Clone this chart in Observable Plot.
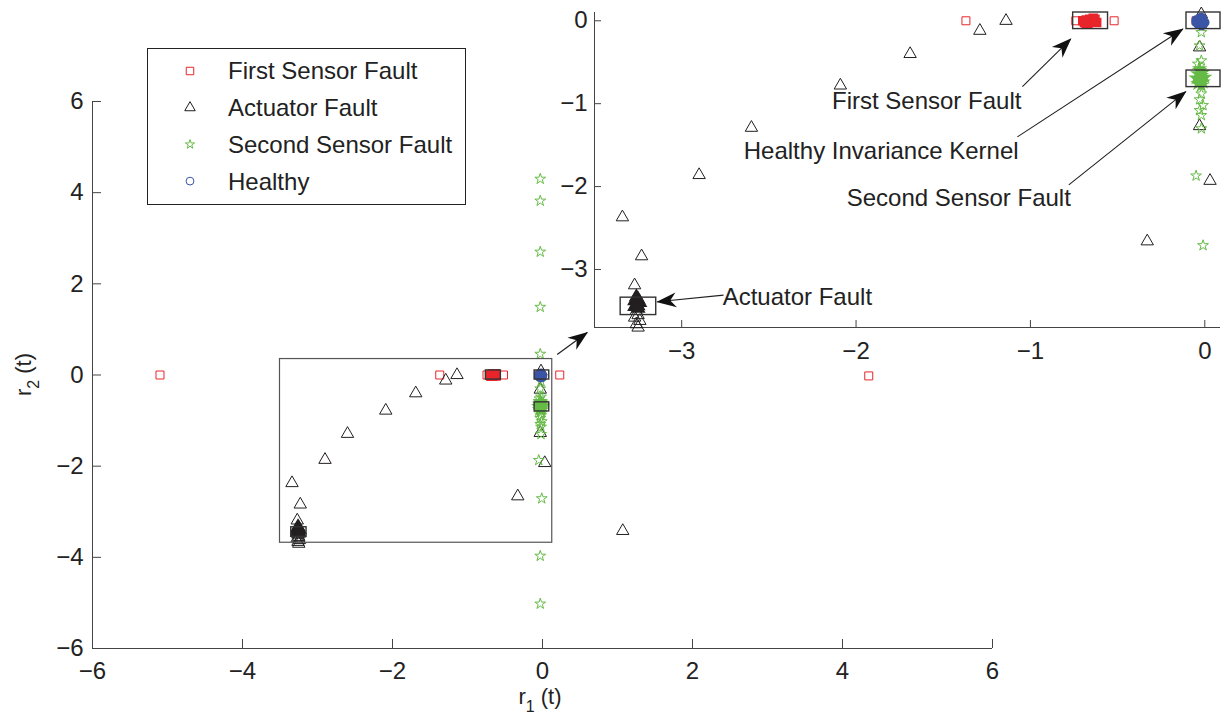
<!DOCTYPE html>
<html><head><meta charset="utf-8">
<script src="https://cdn.jsdelivr.net/npm/d3@7"></script>
<script src="https://cdn.jsdelivr.net/npm/@observablehq/plot@0.6"></script>
<style>
body{margin:0;background:#fff;}
#wrap{position:relative;width:1225px;height:720px;}
#wrap svg{position:absolute;left:0;top:0;}
</style></head><body><div id="wrap"></div>
<script>
const FONT = "'Liberation Sans', Arial, Helvetica, sans-serif";
const RED = "#e8252b", BLACK = "#231f20", GREEN = "#66bb46", BLUE = "#3b55a6", AX = "#444";

// ---- data: First Sensor Fault (red squares)
const firstX = [-5.10, -1.37, -0.74, -0.52, -0.05, 0.23, 4.35];
const firstY = [0, 0, 0, 0, 0, 0, -0.02];
const firstClusterX = [-0.70, -0.69, -0.68, -0.67, -0.66, -0.65, -0.64, -0.63, -0.62, -0.66, -0.68, -0.64];
const firstClusterY = [0.00, -0.02, 0.01, -0.03, 0.02, -0.01, 0.00, 0.02, -0.02, 0.00, -0.03, 0.03];
// ---- Actuator Fault (black triangles)
const actX = [-1.14, -1.29, -1.69, -2.09, -2.60, -2.90, -3.34, -3.23, -3.27, -3.26, -3.25, -3.27, -3.24, -3.26, -3.25, -0.33, 0.03, -0.03, -0.03, -0.02, 1.07];
const actY = [0.00, -0.12, -0.40, -0.78, -1.29, -1.86, -2.37, -2.84, -3.19, -3.50, -3.55, -3.58, -3.62, -3.66, -3.70, -2.66, -1.93, -1.27, -0.32, 0.08, -3.42];
const actClusterX = [-3.26, -3.25, -3.27, -3.24, -3.26, -3.25, -3.27, -3.25];
const actClusterY = [-3.33, -3.36, -3.38, -3.40, -3.42, -3.44, -3.45, -3.47];
// ---- Second Sensor Fault (green stars)
const ssX = [-0.03, -0.03, -0.03, -0.03, -0.03, -0.02, -0.03, -0.02, -0.04, -0.02, -0.03, -0.01, -0.03, -0.02, -0.02, -0.05, -0.01, -0.03, -0.03];
const ssY = [4.30, 3.82, 2.70, 1.49, 0.46, -0.14, -0.30, -0.48, -0.52, -0.88, -0.95, -1.02, -1.08, -1.14, -1.30, -1.87, -2.71, -3.97, -5.02];
const ssClusterX = [-0.03, -0.01, -0.04, -0.02, 0.00, -0.05, -0.02, -0.03, -0.01, -0.04, -0.02, -0.03, -0.02];
const ssClusterY = [-0.58, -0.62, -0.64, -0.66, -0.68, -0.69, -0.70, -0.72, -0.74, -0.76, -0.78, -0.60, -0.71];
// ---- Healthy (blue circles)
const healthyX = [-0.05, -0.03, -0.01, 0.00, -0.04, -0.02, -0.03, -0.01, -0.05, -0.02];
const healthyY = [0.01, 0.03, 0.02, -0.02, -0.04, -0.06, 0.00, -0.05, -0.02, 0.04];

// ---- annotation boxes, labels and arrows (inset)
const boxNames = ["First Sensor Fault", "Healthy Invariance Kernel", "Second Sensor Fault", "Actuator Fault"];
const boxX1 = [-0.755, -0.105, -0.105, -3.35];
const boxX2 = [-0.555, 0.09, 0.09, -3.146];
const boxY1 = [-0.10, -0.10, -0.80, -3.55];
const boxY2 = [0.10, 0.10, -0.60, -3.34];
const labelX = [-1.595, -1.856, -1.411, -2.765];
const labelY = [-0.976, -1.578, -2.145, -3.337];
const labelAnchor = ["middle", "middle", "middle", "start"];
const arrowX1 = [-1.046, -1.075, -0.78, -2.76];
const arrowY1 = [-0.795, -1.40, -1.98, -3.31];
const arrowX2 = [-0.769, -0.126, -0.109, -3.14];
const arrowY2 = [-0.22, -0.10, -0.855, -3.39];
// zoom region in main axes and connector arrow
const zoomX = [-3.5, 0.13], zoomY = [-3.68, 0.35];
const connX = [0.196, 0.596], connY = [0.45, 0.93];

// ---- axes
const mainXDomain = [-6, 6], mainYDomain = [-6, 6];
const mainXTicks = [-6, -4, -2, 0, 2, 4, 6], mainYTicks = [-6, -4, -2, 0, 2, 4, 6];
const insetXDomain = [-3.5, 0.09], insetYDomain = [-3.7, 0.1];
const insetXTicks = [-3, -2, -1, 0], insetYTicks = [0, -1, -2, -3];
const legendNames = ["First Sensor Fault", "Actuator Fault", "Second Sensor Fault", "Healthy"];

const pts = (xs, ys) => xs.map((x, i) => ({x, y: ys[i]}));
const first = pts(firstX, firstY), firstC = pts(firstClusterX, firstClusterY);
const act = pts(actX, actY), actC = pts(actClusterX, actClusterY);
const ss = pts(ssX, ssY), ssC = pts(ssClusterX, ssClusterY);
const healthy = pts(healthyX, healthyY);
const boxes = boxNames.map((n, i) => ({name: n, x1: boxX1[i], x2: boxX2[i], y1: boxY1[i], y2: boxY2[i],
  lx: labelX[i], ly: labelY[i], anchor: labelAnchor[i], ax1: arrowX1[i], ay1: arrowY1[i], ax2: arrowX2[i], ay2: arrowY2[i]}));
const intFmt = d3.format("d");

function pointMarks(filt) {
  const f = filt || (() => true);
  return [
    Plot.dot(first.filter(f), {x: "x", y: "y", symbol: "square", r: 4.5, stroke: RED, strokeWidth: 1}),
    Plot.dot(firstC.filter(f), {x: "x", y: "y", symbol: "square", r: 4.5, stroke: RED, fill: RED}),
    Plot.dot(act.filter(f), {x: "x", y: "y", symbol: "triangle", r: 4.6, stroke: BLACK, strokeWidth: 1}),
    Plot.dot(actC.filter(f), {x: "x", y: "y", symbol: "triangle", r: 4.6, stroke: BLACK, fill: BLACK}),
    Plot.dot(ss.filter(f), {x: "x", y: "y", symbol: "star", r: 3.4, stroke: GREEN, strokeWidth: 1}),
    Plot.dot(ssC.filter(f), {x: "x", y: "y", symbol: "star", r: 3.4, stroke: GREEN, fill: GREEN}),
    Plot.dot(healthy.filter(f), {x: "x", y: "y", symbol: "circle", r: 4, stroke: BLUE, fill: BLUE}),
    Plot.rect(boxes, {x1: "x1", x2: "x2", y1: "y1", y2: "y2", stroke: "#333", strokeWidth: 1.4, fill: "none"})
  ];
}

// ---- main axes
const MW = 1225 - 92 - 233, MH = 720 - 101 - 72;
const main = Plot.plot({
  width: 1225, height: 720,
  marginLeft: 92, marginRight: 233, marginTop: 101, marginBottom: 72,
  x: {domain: mainXDomain, label: null}, y: {domain: mainYDomain, label: null},
  style: {fontFamily: FONT, background: "white", color: "#222"},
  marks: [
    Plot.axisX({ticks: mainXTicks, tickSize: 0, tickPadding: 13, fontSize: 24, label: null, tickFormat: intFmt}),
    Plot.axisY({ticks: mainYTicks, tickSize: 0, tickPadding: 9, fontSize: 24, label: null, tickFormat: intFmt}),
    Plot.tickX(mainXTicks, {x: d => d, insetTop: MH - 9, stroke: AX}),
    Plot.tickY(mainYTicks, {y: d => d, insetRight: MW - 9, stroke: AX}),
    Plot.ruleY([mainYDomain[0]], {stroke: AX}),
    Plot.ruleX([mainXDomain[0]], {stroke: AX}),
    ...pointMarks(),
    Plot.rect([0], {x1: zoomX[0], x2: zoomX[1], y1: zoomY[0], y2: zoomY[1], stroke: "#555", strokeWidth: 1.2, fill: "none"}),
    Plot.link([0], {x1: connX[0], y1: connY[0], x2: connX[1], y2: connY[1], stroke: BLACK, strokeWidth: 1.2})
  ]
});

// ---- inset axes
const IW = 1225 - 594 - 5, IH = 720 - 12 - 393;
const inD = d => d.x >= insetXDomain[0] && d.x <= insetXDomain[1] && d.y >= insetYDomain[0] && d.y <= insetYDomain[1];
const inset = Plot.plot({
  width: 1225, height: 720,
  marginLeft: 594, marginRight: 5, marginTop: 12, marginBottom: 393,
  x: {domain: insetXDomain, label: null}, y: {domain: insetYDomain, label: null},
  style: {fontFamily: FONT, background: "transparent", color: "#222"},
  marks: [
    Plot.axisX({ticks: insetXTicks, tickSize: 0, tickPadding: 14, fontSize: 24, label: null, tickFormat: intFmt}),
    Plot.axisY({ticks: insetYTicks, tickSize: 0, tickPadding: 7, fontSize: 24, label: null, tickFormat: intFmt}),
    Plot.tickX(insetXTicks, {x: d => d, insetTop: IH - 7, stroke: AX}),
    Plot.tickY(insetYTicks, {y: d => d, insetRight: IW - 7, stroke: AX}),
    Plot.ruleY([insetYDomain[0]], {stroke: AX}),
    Plot.ruleX([insetXDomain[0]], {stroke: AX}),
    ...pointMarks(inD),
    Plot.link(boxes, {x1: "ax1", y1: "ay1", x2: "ax2", y2: "ay2", stroke: BLACK, strokeWidth: 1.1}),
    Plot.text(boxes, {x: "lx", y: "ly", text: "name", fontSize: 24, fill: "#222"})
  ]
});
d3.select(inset).selectAll('g[aria-label="text"] text').attr("text-anchor", (d, i) => boxes[i] ? boxes[i].anchor : "middle");

function addArrowheads(svgNode, id) {
  const s = d3.select(svgNode);
  s.append("defs").append("marker").attr("id", id)
    .attr("viewBox", "-22 -10 24 20").attr("markerWidth", 24).attr("markerHeight", 20)
    .attr("refX", 0).attr("refY", 0).attr("orient", "auto").attr("markerUnits", "userSpaceOnUse")
    .append("path").attr("d", "M1,0L-19,-7.5L-13,0L-19,7.5Z").attr("fill", "#111");
  s.selectAll('g[aria-label="link"] path').attr("marker-end", `url(#${id})`);
}
addArrowheads(main, "ahMain");
addArrowheads(inset, "ahInset");

// axis titles
const svg = d3.select(main);
const xs = main.scale("x"), ys = main.scale("y");
const xl = svg.append("text").attr("x", xs.apply(0) - 2).attr("y", 704).attr("text-anchor", "middle")
  .attr("font-family", FONT).attr("font-size", 22).attr("fill", "#222");
xl.append("tspan").text("r");
xl.append("tspan").attr("dy", 8).attr("font-size", 16).text("1");
xl.append("tspan").attr("dy", -8).text(" (t)");
const yl = svg.append("text").attr("transform", `translate(31,${ys.apply(0)}) rotate(-90)`).attr("text-anchor", "middle")
  .attr("font-family", FONT).attr("font-size", 22).attr("fill", "#222");
yl.append("tspan").text("r");
yl.append("tspan").attr("dy", 8).attr("font-size", 16).text("2");
yl.append("tspan").attr("dy", -8).text(" (t)");

// legend
const lg = svg.append("g").attr("text-anchor", "start");
lg.append("rect").attr("x", 147.5).attr("y", 48.5).attr("width", 318).attr("height", 156)
  .attr("fill", "white").attr("stroke", "#222").attr("stroke-width", 1);
const legendSym = [[d3.symbolSquare, 56, RED], [d3.symbolTriangle, 48, BLACK], [d3.symbolStar, 26, GREEN], [d3.symbolCircle, 48, BLUE]];
legendNames.forEach((name, i) => {
  const yy = 71 + i * 36.7;
  const [sym, size, col] = legendSym[i];
  lg.append("path").attr("transform", `translate(190,${yy})`).attr("d", d3.symbol(sym, size)())
    .attr("fill", "none").attr("stroke", col).attr("stroke-width", 1);
  lg.append("text").attr("x", 228).attr("y", yy).attr("dy", "0.35em").attr("text-anchor", "start")
    .attr("font-family", FONT).attr("font-size", 24).attr("fill", "#222").text(name);
});

const wrap = document.getElementById("wrap");
wrap.appendChild(main);
wrap.appendChild(inset);
</script></body></html>
